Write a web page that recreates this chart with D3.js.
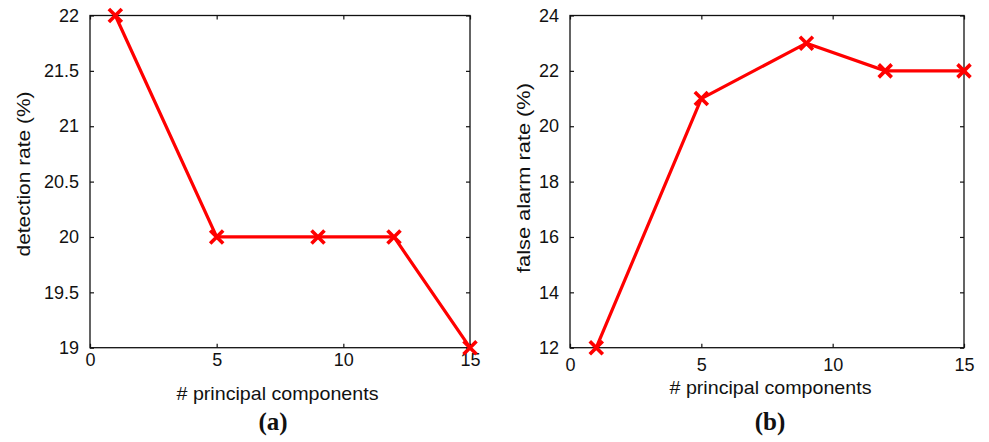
<!DOCTYPE html>
<html><head><meta charset="utf-8">
<script src="https://cdn.jsdelivr.net/npm/d3@7"></script>
<style>body{margin:0;background:#fff}svg{display:block}</style>
</head><body>
<svg id="c" width="989" height="442"></svg>
<script>
const components = [1, 5, 9, 12, 15];
const detectionRate = [22, 20, 20, 20, 19];
const falseAlarmRate = [12, 21, 23, 22, 22];
const xTicks = [0, 5, 10, 15];
const yTicksA = [19, 19.5, 20, 20.5, 21, 21.5, 22];
const yTicksB = [12, 14, 16, 18, 20, 22, 24];

const svg = d3.select("#c");
const font = "Liberation Sans, Arial, Helvetica, sans-serif";

function panel(o) {
  const g = svg.append("g");
  const x = d3.scaleLinear().domain([0, 15]).range([o.left, o.right]);
  const y = d3.scaleLinear().domain(o.ydom).range([o.bottom, o.top]);
  const tl = 4;
  g.append("rect").attr("x", o.left).attr("y", o.top)
    .attr("width", o.right - o.left).attr("height", o.bottom - o.top)
    .attr("fill", "none").attr("stroke", "#111").attr("stroke-width", 1.3);
  const gx = g.append("g").attr("transform", `translate(0,${o.bottom})`)
    .call(d3.axisBottom(x).tickValues(xTicks).tickSize(-tl).tickPadding(tl + o.xpad).tickFormat(d3.format("d")));
  const gxt = g.append("g").attr("transform", `translate(0,${o.top})`)
    .call(d3.axisTop(x).tickValues(xTicks).tickSize(-tl).tickFormat(""));
  const gy = g.append("g").attr("transform", `translate(${o.left},0)`)
    .call(d3.axisLeft(y).tickValues(o.yticks).tickSize(-tl).tickPadding(tl + 7).tickFormat(d => String(d)));
  const gyr = g.append("g").attr("transform", `translate(${o.right},0)`)
    .call(d3.axisRight(y).tickValues(o.yticks).tickSize(-tl).tickFormat(""));
  [gx, gxt, gy, gyr].forEach(a => {
    a.select(".domain").remove();
    a.selectAll(".tick line").attr("stroke", "#111").attr("stroke-width", 1.2);
    a.selectAll("text").attr("font-family", font).attr("font-size", 18).attr("fill", "#111");
  });
  const line = d3.line().x((d, i) => x(components[i])).y(d => y(d));
  g.append("path").datum(o.values).attr("d", line).attr("fill", "none")
    .attr("stroke", "#ff0000").attr("stroke-width", 3.2).attr("stroke-linejoin", "miter");
  const s = 6.5;
  g.selectAll(".mk").data(o.values).enter().append("path")
    .attr("d", (d, i) => {
      const cx = x(components[i]), cy = y(d);
      return `M${cx - s},${cy - s}L${cx + s},${cy + s}M${cx - s},${cy + s}L${cx + s},${cy - s}`;
    })
    .attr("stroke", "#ff0000").attr("stroke-width", 3.6).attr("fill", "none");
  g.append("text").attr("x", o.xlabX).attr("y", o.xlabY).attr("text-anchor", "middle")
    .attr("font-family", font).attr("font-size", 19).attr("fill", "#111")
    .attr("textLength", 202).attr("lengthAdjust", "spacingAndGlyphs")
    .text("# principal components");
  g.append("text").attr("transform", `translate(${o.ylabX},${o.ylabY}) rotate(-90)`)
    .attr("text-anchor", "middle").attr("font-family", font).attr("font-size", 19).attr("fill", "#111")
    .attr("textLength", o.ylabLen).attr("lengthAdjust", "spacingAndGlyphs")
    .text(o.ylab);
  g.append("text").attr("x", o.capX).attr("y", 430).attr("text-anchor", "middle")
    .attr("font-family", "Liberation Serif, Times New Roman, serif").attr("font-weight", "bold")
    .attr("font-size", 25).attr("fill", "#111").text(o.cap);
}

panel({left: 90, right: 470, top: 15.5, bottom: 347.7, ydom: [19, 22], yticks: yTicksA,
  values: detectionRate, ylab: "detection rate (%)", ylabX: 29.5, ylabY: 174, ylabLen: 165,
  xlabX: 277.5, xlabY: 400, xpad: 2, capX: 273, cap: "(a)"});
panel({left: 570, right: 964, top: 15.5, bottom: 347.7, ydom: [12, 24], yticks: yTicksB,
  values: falseAlarmRate, ylab: "false alarm rate (%)", ylabX: 529.5, ylabY: 178, ylabLen: 190,
  xlabX: 770.5, xlabY: 394, xpad: 7, capX: 770, cap: "(b)"});
</script>
</body></html>
